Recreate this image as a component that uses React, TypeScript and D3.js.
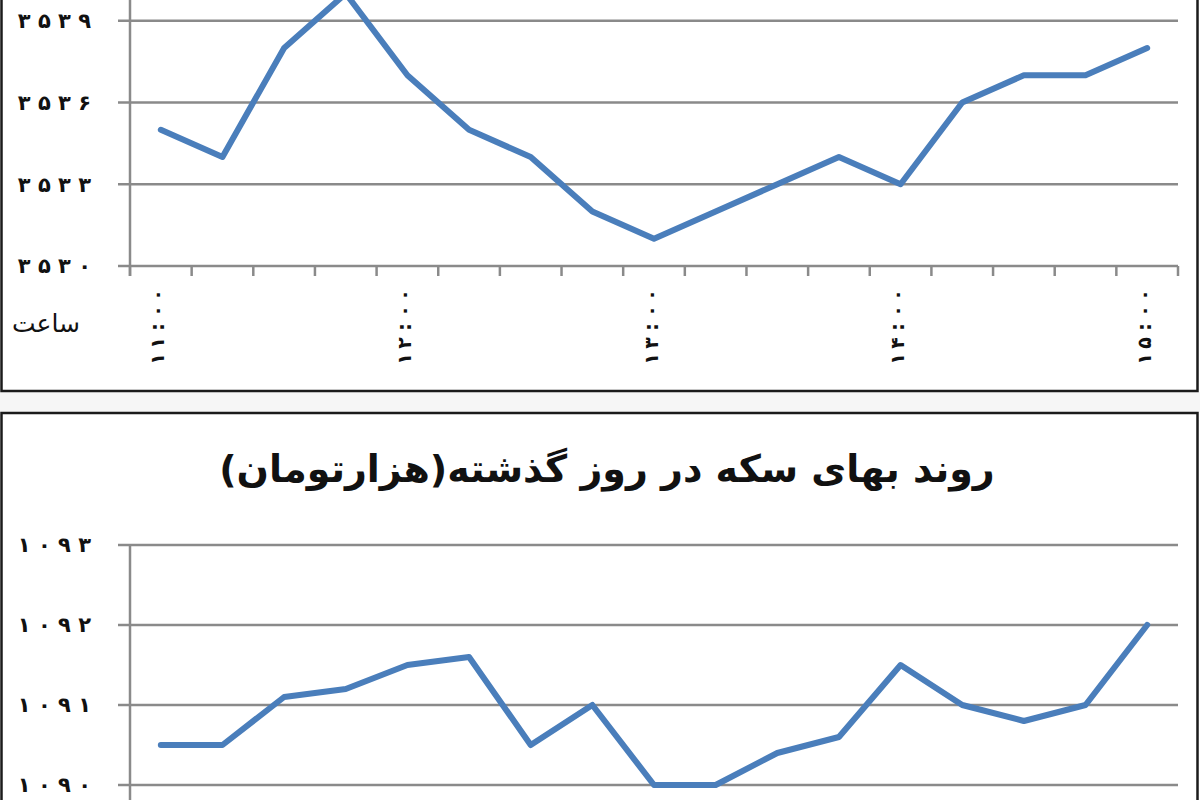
import { useEffect, useRef } from "react";
import * as d3 from "d3";

const WIDTH = 1200;
const HEIGHT = 800;

// 17 samples, 15 minutes apart, 11:00 .. 15:00
const hourLabels = ["11:00", "12:00", "13:00", "14:00", "15:00"];
const dollarValues = [
  3535, 3534, 3538, 3540, 3537, 3535, 3534, 3532, 3531, 3532, 3533, 3534,
  3533, 3536, 3537, 3537, 3538,
];
const coinValues = [
  1090.5, 1090.5, 1091.1, 1091.2, 1091.5, 1091.6, 1090.5, 1091, 1090, 1090,
  1090.4, 1090.6, 1091.5, 1091, 1090.8, 1091, 1092,
];
const dollarTicks = [3530, 3533, 3536, 3539, 3542];
const coinTicks = [1089, 1090, 1091, 1092, 1093];
const coinTitle = "روند بهای سکه در روز گذشته(هزارتومان)";
const xAxisName = "ساعت";

const FA_DIGITS = "۰۱۲۳۴۵۶۷۸۹";
const faDigits = (s: string | number) =>
  String(s).replace(/[0-9]/g, (d) => FA_DIGITS[+d]);
// spread out with spaces like the original labels
const spaced = (s: string | number) => faDigits(s).split("").join(" ");

const LINE_COLOR = "#4a7ebb";
const GRID_COLOR = "#8a8a8a";
const FONT = "'DejaVu Sans', sans-serif";

const PLOT = { left: 130, right: 1178 };

const App = () => {
  const svgRef = useRef(null);

  useEffect(() => {
    const svg = d3.select(svgRef.current);
    svg.selectAll("*").remove();

    // panels
    svg.append("rect").attr("width", WIDTH).attr("height", HEIGHT).attr("fill", "#ffffff");
    svg.append("rect").attr("x", 0).attr("y", 392).attr("width", WIDTH).attr("height", 20).attr("fill", "#f6f6f6");
    svg
      .append("path")
      .attr("d", "M1.5,-5 V391 H1197.5 V-5")
      .attr("fill", "none")
      .attr("stroke", "#1b1b1b")
      .attr("stroke-width", 2.5);
    svg
      .append("path")
      .attr("d", "M1.5,805 V413 H1197.5 V805")
      .attr("fill", "none")
      .attr("stroke", "#1b1b1b")
      .attr("stroke-width", 2.5);

    const xScale = d3
      .scaleBand<number>()
      .domain(d3.range(dollarValues.length))
      .range([PLOT.left, PLOT.right]);
    const xCenter = (i: number) => xScale(i)! + xScale.bandwidth() / 2;

    const drawChart = (
      values: number[],
      ticks: number[],
      yScale: d3.ScaleLinear<number, number>,
      axisTop: number
    ) => {
      const g = svg.append("g");
      const [y0] = yScale.range();

      // gridlines + left tick marks
      g.selectAll(".grid")
        .data(ticks.slice(1))
        .join("line")
        .attr("x1", PLOT.left - 12)
        .attr("x2", PLOT.right)
        .attr("y1", (d) => yScale(d))
        .attr("y2", (d) => yScale(d))
        .attr("stroke", GRID_COLOR)
        .attr("stroke-width", 2.5);

      // x axis line + tick marks between categories
      g.append("line")
        .attr("x1", PLOT.left - 12)
        .attr("x2", PLOT.right)
        .attr("y1", y0)
        .attr("y2", y0)
        .attr("stroke", GRID_COLOR)
        .attr("stroke-width", 2.5);
      g.selectAll(".xtick")
        .data(d3.range(values.length + 1))
        .join("line")
        .attr("x1", (i) => PLOT.left + i * xScale.bandwidth())
        .attr("x2", (i) => PLOT.left + i * xScale.bandwidth())
        .attr("y1", y0)
        .attr("y2", y0 + 10)
        .attr("stroke", GRID_COLOR)
        .attr("stroke-width", 2.5);

      // y axis line
      g.append("line")
        .attr("x1", PLOT.left)
        .attr("x2", PLOT.left)
        .attr("y1", axisTop)
        .attr("y2", y0 + 10)
        .attr("stroke", GRID_COLOR)
        .attr("stroke-width", 2.5);

      // y labels (only those inside the picture)
      g.selectAll(".ylab")
        .data(ticks.filter((d) => yScale(d) > 10 && yScale(d) < HEIGHT - 10))
        .join("text")
        .attr("x", 91)
        .attr("y", (d) => yScale(d))
        .attr("dy", "0.35em")
        .attr("text-anchor", "end")
        .attr("font-family", FONT)
        .attr("font-weight", "bold")
        .attr("font-size", 21)
        .attr("fill", "#111")
        .text((d) => spaced(d));

      // data line
      const line = d3
        .line<number>()
        .x((_, i) => xCenter(i))
        .y((d) => yScale(d));
      g.append("path")
        .datum(values)
        .attr("d", line)
        .attr("fill", "none")
        .attr("stroke", LINE_COLOR)
        .attr("stroke-width", 6)
        .attr("stroke-linejoin", "round")
        .attr("stroke-linecap", "round");

      return g;
    };

    // top chart (cropped at the top of the picture)
    const yTop = d3.scaleLinear().domain([3530, 3542]).range([266, -61]);
    const top = drawChart(dollarValues, dollarTicks, yTop, -10);

    // rotated hour labels, one glyph per text so the spacing holds
    const xLabels = top
      .selectAll(".xlab")
      .data(hourLabels)
      .join("g")
      .attr(
        "transform",
        (_, i) => `translate(${xCenter(i * 4) - 3},327) rotate(-90)`
      );
    xLabels
      .selectAll("text")
      .data((d) => faDigits(d).split(""))
      .join("text")
      .attr("x", (_, j) => (j - 2) * 16)
      .attr("dy", "0.35em")
      .attr("text-anchor", "middle")
      .attr("font-family", FONT)
      .attr("font-weight", "bold")
      .attr("font-size", 19)
      .attr("fill", "#111")
      .text((c) => c);

    top
      .append("text")
      .attr("x", 80)
      .attr("y", 323)
      .attr("dy", "0.35em")
      .attr("text-anchor", "start")
      .attr("direction", "rtl")
      .attr("font-family", FONT)
      .attr("font-size", 25)
      .attr("fill", "#111")
      .text(xAxisName);

    // bottom chart (cropped at the bottom of the picture)
    const yBottom = d3.scaleLinear().domain([1089, 1093]).range([865, 545]);
    drawChart(coinValues, coinTicks, yBottom, 545);

    svg
      .append("text")
      .attr("x", 607)
      .attr("y", 469)
      .attr("dy", "0.35em")
      .attr("text-anchor", "middle")
      .attr("direction", "rtl")
      .attr("font-family", FONT)
      .attr("font-weight", "bold")
      .attr("font-size", 38)
      .attr("fill", "#111")
      .text(coinTitle);
  }, []);

  return (
    <svg
      ref={svgRef}
      width={WIDTH}
      height={HEIGHT}
      style={{ position: "absolute", left: 0, top: 0, display: "block" }}
    ></svg>
  );
};

export default App;
